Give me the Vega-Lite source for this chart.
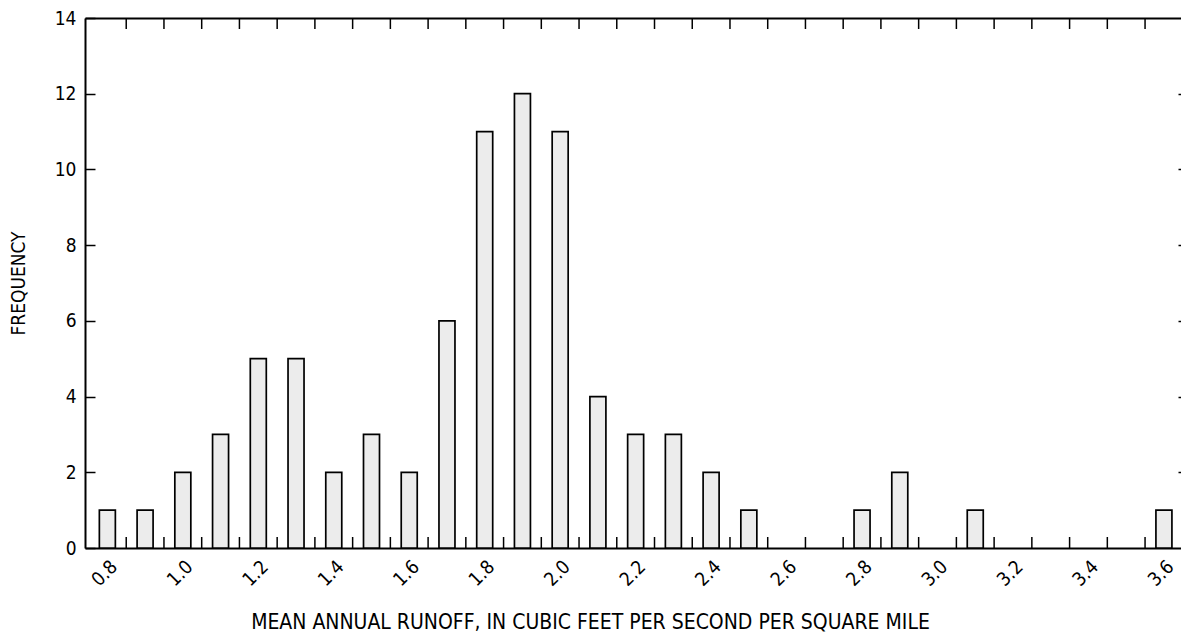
{
  "$schema": "https://vega.github.io/schema/vega-lite/v6.json",
  "autosize": {"type": "none"},
  "padding": {"left": 85, "top": 18, "right": 0, "bottom": 84},
  "width": 1096,
  "height": 530,
  "background": "white",
  "config": {
    "view": {"stroke": null},
    "font": "'DejaVu Sans Condensed', 'Liberation Sans Narrow', Roboto, sans-serif",
    "axis": {"grid": false, "domainColor": "black", "tickColor": "black", "labelColor": "black", "titleColor": "black", "labelFont": "'DejaVu Sans Condensed', 'Liberation Sans Narrow', Roboto, sans-serif", "titleFont": "'DejaVu Sans Condensed', 'Liberation Sans Narrow', Roboto, sans-serif", "titleFontWeight": "normal"}
  },
  "datasets": {
    "hist": [
      {"runoff": 0.8, "freq": 1}, {"runoff": 0.9, "freq": 1}, {"runoff": 1.0, "freq": 2},
      {"runoff": 1.1, "freq": 3}, {"runoff": 1.2, "freq": 5}, {"runoff": 1.3, "freq": 5},
      {"runoff": 1.4, "freq": 2}, {"runoff": 1.5, "freq": 3}, {"runoff": 1.6, "freq": 2},
      {"runoff": 1.7, "freq": 6}, {"runoff": 1.8, "freq": 11}, {"runoff": 1.9, "freq": 12},
      {"runoff": 2.0, "freq": 11}, {"runoff": 2.1, "freq": 4}, {"runoff": 2.2, "freq": 3},
      {"runoff": 2.3, "freq": 3}, {"runoff": 2.4, "freq": 2}, {"runoff": 2.5, "freq": 1},
      {"runoff": 2.8, "freq": 1}, {"runoff": 2.9, "freq": 2}, {"runoff": 3.1, "freq": 1},
      {"runoff": 3.6, "freq": 1}
    ],
    "edges": [
      {"edge": 0.85}, {"edge": 0.95}, {"edge": 1.05}, {"edge": 1.15}, {"edge": 1.25}, {"edge": 1.35}, {"edge": 1.45},
      {"edge": 1.55}, {"edge": 1.65}, {"edge": 1.75}, {"edge": 1.85}, {"edge": 1.95}, {"edge": 2.05}, {"edge": 2.15},
      {"edge": 2.25}, {"edge": 2.35}, {"edge": 2.45}, {"edge": 2.55}, {"edge": 2.65}, {"edge": 2.75}, {"edge": 2.85},
      {"edge": 2.95}, {"edge": 3.05}, {"edge": 3.15}, {"edge": 3.25}, {"edge": 3.35}, {"edge": 3.45}, {"edge": 3.55}
    ]
  },
  "resolve": {"axis": {"x": "independent", "y": "independent"}},
  "layer": [
    {
      "data": {"name": "hist"},
      "mark": {"type": "bar", "width": 16, "fill": "#ececec", "stroke": "black", "strokeWidth": 1.7},
      "encoding": {
        "x": {"field": "runoff", "type": "quantitative",
          "scale": {"domain": [0.754, 3.632], "nice": false, "zero": false},
          "axis": {
            "orient": "bottom",
            "title": "MEAN ANNUAL RUNOFF, IN CUBIC FEET PER SECOND PER SQUARE MILE",
            "titleFontSize": 21, "titleX": 505, "titleY": 80, "titleBaseline": "alphabetic",
            "values": [0.8, 1.0, 1.2, 1.4, 1.6, 1.8, 2.0, 2.2, 2.4, 2.6, 2.8, 3.0, 3.2, 3.4, 3.6],
            "format": ".1f",
            "labelAngle": -45, "labelFontSize": 19, "labelPadding": 9, "labelOverlap": false, "labelFlush": false,
            "ticks": false,
            "domainWidth": 2
          }
        },
        "y": {"field": "freq", "type": "quantitative",
          "scale": {"domain": [0, 14], "nice": false},
          "axis": {
            "orient": "left", "title": "FREQUENCY", "titleFontSize": 19, "titleX": -67, "titleBaseline": "middle",
            "values": [0, 2, 4, 6, 8, 10, 12, 14], "format": "d",
            "labelFontSize": 19, "labelPadding": 19, "tickSize": -10, "tickWidth": 1.5, "domainWidth": 2
          }
        }
      }
    },
    {
      "data": {"name": "hist"},
      "mark": {"type": "bar", "width": 16, "opacity": 0},
      "encoding": {
        "x": {"field": "runoff", "type": "quantitative",
          "axis": {
            "orient": "top", "title": null, "labels": false, "ticks": false,
            "domainWidth": 2
          }
        },
        "y": {"field": "freq", "type": "quantitative",
          "axis": {
            "orient": "right", "title": null, "labels": false,
            "values": [2, 4, 6, 8, 10, 12], "tickSize": -3, "tickWidth": 1.5, "domain": false
          }
        }
      }
    },
    {
      "data": {"name": "edges"},
      "mark": {"type": "rule", "color": "black", "strokeWidth": 1.5},
      "encoding": {
        "x": {"field": "edge", "type": "quantitative", "axis": null},
        "y": {"datum": 0, "type": "quantitative", "axis": null},
        "y2": {"datum": 0.29}
      }
    },
    {
      "data": {"name": "edges"},
      "mark": {"type": "rule", "color": "black", "strokeWidth": 1.5},
      "encoding": {
        "x": {"field": "edge", "type": "quantitative", "axis": null},
        "y": {"datum": 14, "type": "quantitative", "axis": null},
        "y2": {"datum": 13.71}
      }
    }
  ]
}
